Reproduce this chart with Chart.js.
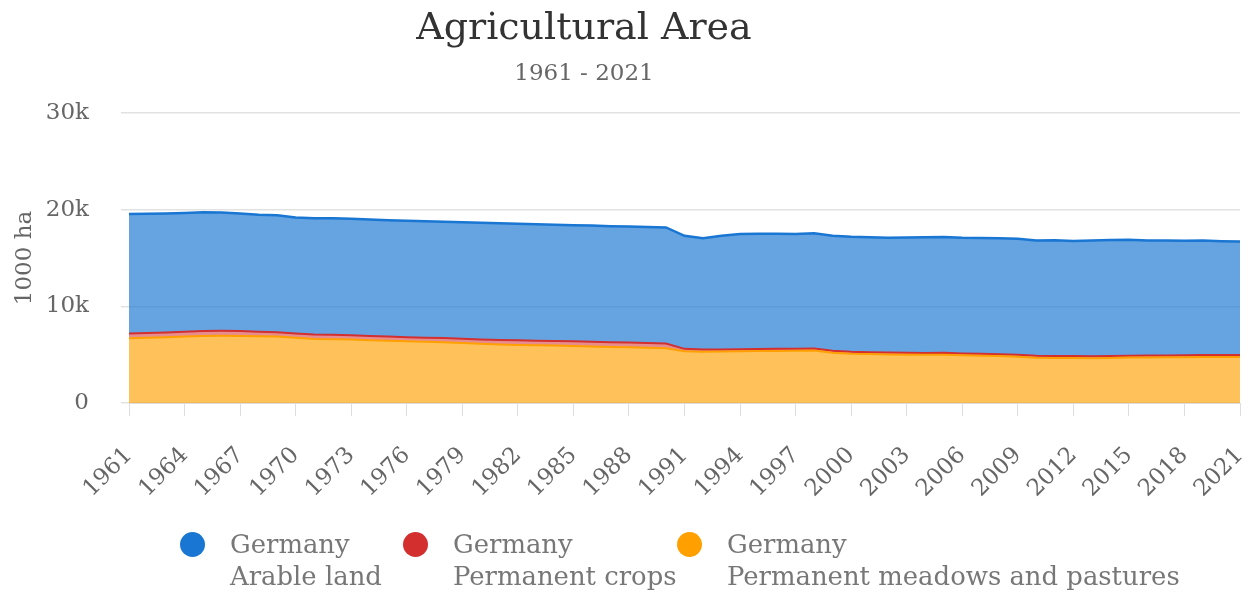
<!DOCTYPE html>
<html>
<head>
<meta charset="utf-8">
<script src="https://cdn.jsdelivr.net/npm/chart.js@4/dist/chart.umd.min.js"></script>
<style>
  body { margin: 0; background: #fff; }
  #wrap { position: relative; width: 1250px; height: 592px; font-family: "DejaVu Serif", serif; }
  #title { position: absolute; left: 0; width: 1168px; top: 4px; text-align: center; font-size: 38px; color: #333; }
  #subtitle { position: absolute; left: 0; width: 1168px; top: 59px; text-align: center; font-size: 23px; color: #666; }
  .item { position: absolute; top: 528px; display: flex; }
  .dot { width: 25px; height: 25px; border-radius: 50%; margin-right: 25px; margin-top: 4px; }
  .txt { font-size: 25.9px; color: #777; line-height: 32px; white-space: nowrap; }
</style>
</head>
<body>
<div id="wrap">
  <canvas id="c" width="1250" height="592"></canvas>
  <div id="title">Agricultural Area</div>
  <div id="subtitle">1961 - 2021</div>
</div>
<script>
const years = [];
for (let y = 1961; y <= 2021; y++) years.push(String(y));

// 1000 ha
const arable = [
  12350, 12320, 12300, 12280, 12260, 12230, 12150, 12100, 12080, 12000,
  12040, 12050, 12040, 12030, 12030, 12040, 12040, 12040, 12050, 12070,
  12080, 12050, 12030, 12010, 12020, 12020, 12000, 12000, 12000, 12010,
  11690, 11520, 11760, 11900, 11910, 11900, 11870, 11940, 11890, 11890,
  11890, 11880, 11930, 11970, 11990, 11970, 11980, 11990, 12000, 11930,
  11970, 11920, 11960, 11990, 12000, 11890, 11880, 11850, 11840, 11780,
  11730
];
const crops = [
  500, 500, 500, 510, 520, 520, 510, 480, 450, 450,
  450, 450, 450, 440, 430, 420, 430, 440, 450, 460,
  470, 480, 480, 480, 480, 480, 480, 490, 490, 490,
  250, 230, 220, 220, 220, 220, 220, 210, 210, 210,
  200, 200, 200, 200, 200, 200, 200, 200, 200, 200,
  200, 200, 200, 200, 200, 200, 200, 200, 200, 200,
  200
];
const meadows = [
  6700, 6750, 6800, 6870, 6940, 6950, 6940, 6900, 6880, 6750,
  6630, 6600, 6560, 6500, 6440, 6390, 6330, 6280, 6200, 6120,
  6050, 6010, 5970, 5940, 5900, 5850, 5800, 5760, 5720, 5660,
  5350, 5300, 5320, 5350, 5370, 5380, 5400, 5420, 5200, 5100,
  5060, 5020, 5000, 4980, 4990, 4930, 4900, 4850, 4780, 4690,
  4660, 4650, 4640, 4660, 4700, 4710, 4720, 4730, 4760, 4760,
  4770
];
const yTicks = [0, 10000, 20000, 30000];
const yTickLabels = ['0', '10k', '20k', '30k'];

const seriesNames = ['Arable land', 'Permanent crops', 'Permanent meadows and pastures'];
const seriesColors = ['#1976D2', '#D32F2F', '#FFA000'];
const seriesFills = ['rgba(25,118,210,0.67)', 'rgba(211,47,47,0.55)', 'rgba(255,160,0,0.65)'];
const legendLefts = [180, 403, 677];

const axisFont = { family: '"DejaVu Serif", serif', size: 23 };

new Chart(document.getElementById('c').getContext('2d'), {
  type: 'line',
  data: {
    labels: years,
    datasets: [
      { label: seriesNames[2], data: meadows, borderColor: seriesColors[2], backgroundColor: seriesFills[2], fill: 'origin', borderWidth: 2 },
      { label: seriesNames[1], data: crops, borderColor: seriesColors[1], backgroundColor: seriesFills[1], fill: '-1', borderWidth: 2 },
      { label: seriesNames[0], data: arable, borderColor: seriesColors[0], backgroundColor: seriesFills[0], fill: '-1', borderWidth: 2.5 }
    ]
  },
  options: {
    responsive: false,
    animation: false,
    elements: { point: { radius: 0 }, line: { tension: 0 } },
    layout: { padding: { top: 113, right: 0, bottom: 90, left: 0 } },
    plugins: { legend: { display: false }, tooltip: { enabled: false } },
    scales: {
      x: {
        afterFit: s => { s.height = 99; s.paddingRight = 10; },
        grid: {
          drawOnChartArea: false, tickLength: 13,
          color: ctx => (ctx.index % 3 === 0 ? '#dddddd' : 'rgba(0,0,0,0)')
        },
        border: { color: '#dddddd' },
        ticks: {
          autoSkip: false, maxRotation: 45, minRotation: 45, padding: 26,
          color: '#666', font: axisFont,
          callback: (v, i) => (i % 3 === 0 ? years[i] : '')
        }
      },
      y: {
        stacked: true, min: 0, max: 30000,
        afterFit: s => { s.width = 129; },
        afterBuildTicks: s => { s.ticks = yTicks.map(v => ({ value: v })); },
        grid: { color: '#e2e2e2', tickLength: 8, lineWidth: 1.5 },
        border: { display: false },
        title: { display: true, text: '1000 ha', color: '#666', font: axisFont, padding: { top: 11, bottom: 0 } },
        ticks: {
          padding: 32, color: '#666', font: axisFont,
          callback: v => yTickLabels[yTicks.indexOf(v)]
        }
      }
    }
  }
});

// legend below the chart
const wrap = document.getElementById('wrap');
seriesNames.forEach((n, i) => {
  const item = document.createElement('div');
  item.className = 'item';
  item.style.left = legendLefts[i] + 'px';
  item.innerHTML = `<div class="dot" style="background:${seriesColors[i]}"></div>` +
    `<div class="txt">Germany<br>${n}</div>`;
  wrap.appendChild(item);
});
</script>
</body>
</html>
